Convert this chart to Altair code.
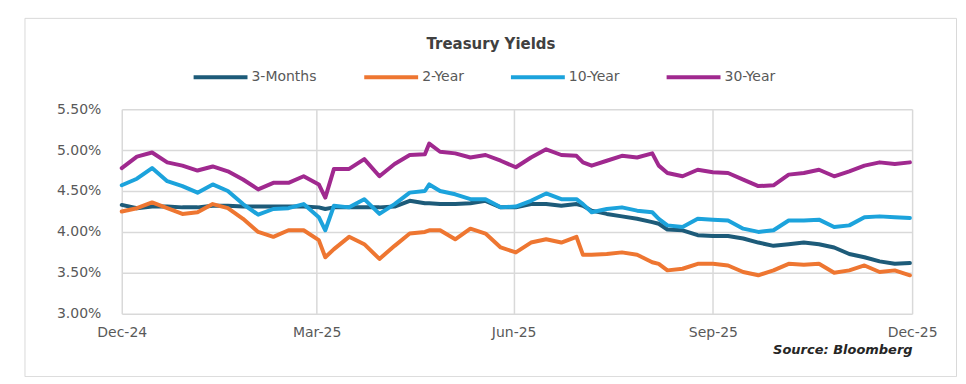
import altair as alt
import pandas as pd

# ---- data ----
dates = [
    "2024-12-31", "2025-01-07", "2025-01-14", "2025-01-21", "2025-01-28",
    "2025-02-04", "2025-02-11", "2025-02-18", "2025-02-25", "2025-03-04",
    "2025-03-11", "2025-03-18", "2025-03-25", "2025-04-01", "2025-04-04",
    "2025-04-08", "2025-04-15", "2025-04-22", "2025-04-29", "2025-05-06",
    "2025-05-13", "2025-05-20", "2025-05-22", "2025-05-27", "2025-06-03",
    "2025-06-10", "2025-06-17", "2025-06-24", "2025-07-01", "2025-07-08",
    "2025-07-15", "2025-07-22", "2025-07-29", "2025-08-01", "2025-08-05",
    "2025-08-12", "2025-08-19", "2025-08-26", "2025-09-02", "2025-09-05",
    "2025-09-09", "2025-09-16", "2025-09-23", "2025-09-30", "2025-10-07",
    "2025-10-14", "2025-10-21", "2025-10-28", "2025-11-04", "2025-11-11",
    "2025-11-18", "2025-11-25", "2025-12-02", "2025-12-09", "2025-12-16",
    "2025-12-23", "2025-12-30",
]

three_month = [
    4.33, 4.29, 4.31, 4.31, 4.30,
    4.30, 4.32, 4.32, 4.31, 4.31,
    4.31, 4.31, 4.31, 4.30, 4.28,
    4.30, 4.30, 4.30, 4.30, 4.31,
    4.38, 4.35, 4.35, 4.34, 4.34,
    4.35, 4.38, 4.30, 4.30, 4.34,
    4.34, 4.32, 4.34, 4.32, 4.26,
    4.22, 4.19, 4.16, 4.12, 4.10,
    4.03, 4.02, 3.96, 3.95, 3.95,
    3.92, 3.87, 3.83, 3.85, 3.87,
    3.85, 3.81, 3.73, 3.69, 3.64,
    3.61, 3.62,
]

two_year = [
    4.25, 4.29, 4.36, 4.29, 4.22,
    4.24, 4.34, 4.29, 4.16, 4.00,
    3.94, 4.02, 4.02, 3.90, 3.69,
    3.79, 3.94, 3.85, 3.67, 3.83,
    3.98, 4.00, 4.02, 4.02, 3.91,
    4.04, 3.98, 3.81, 3.75, 3.87,
    3.91, 3.87, 3.94, 3.72, 3.72,
    3.73, 3.75, 3.72, 3.63, 3.61,
    3.53, 3.55, 3.61, 3.61, 3.59,
    3.51, 3.47, 3.53, 3.61, 3.60,
    3.61, 3.50, 3.53, 3.59, 3.51,
    3.53, 3.47,
]

ten_year = [
    4.57, 4.65, 4.78, 4.62, 4.56,
    4.48, 4.58, 4.50, 4.34, 4.21,
    4.28, 4.29, 4.34, 4.18, 4.02,
    4.32, 4.30, 4.40, 4.22, 4.34,
    4.48, 4.50, 4.58, 4.50, 4.46,
    4.40, 4.40, 4.30, 4.31, 4.38,
    4.47, 4.40, 4.40, 4.34, 4.24,
    4.28, 4.30, 4.26, 4.24, 4.16,
    4.08, 4.06, 4.16, 4.15, 4.14,
    4.04, 4.00, 4.02, 4.14, 4.14,
    4.15, 4.06, 4.08, 4.18, 4.19,
    4.18, 4.17,
]

thirty_year = [
    4.78, 4.92, 4.97, 4.85, 4.81,
    4.75, 4.80, 4.74, 4.64, 4.52,
    4.60, 4.60, 4.68, 4.58, 4.42,
    4.77, 4.77, 4.89, 4.68, 4.83,
    4.94, 4.95, 5.08, 4.98, 4.96,
    4.91, 4.94, 4.87, 4.79, 4.91,
    5.01, 4.94, 4.93, 4.85, 4.81,
    4.87, 4.93, 4.91, 4.96, 4.81,
    4.72, 4.68, 4.76, 4.73, 4.72,
    4.64, 4.56, 4.57, 4.70, 4.72,
    4.76, 4.68, 4.74, 4.81, 4.85,
    4.83, 4.85,
]

series_names = ["3-Months", "2-Year", "10-Year", "30-Year"]
series_colors = ["#1d5b79", "#ee7631", "#1ca3dc", "#a0298f"]
y_ticks = [3.0, 3.5, 4.0, 4.5, 5.0, 5.5]

rows = []
for name, vals in zip(series_names, [three_month, two_year, ten_year, thirty_year]):
    for d, v in zip(dates, vals):
        rows.append({"date": d, "series": name, "yield": v})
df = pd.DataFrame(rows)

x_ticks = [
    alt.DateTime(year=2024, month=12, date=31, utc=True),
    alt.DateTime(year=2025, month=3, date=31, utc=True),
    alt.DateTime(year=2025, month=6, date=30, utc=True),
    alt.DateTime(year=2025, month=9, date=30, utc=True),
    alt.DateTime(year=2025, month=12, date=31, utc=True),
]

GRID = "#d9d9d9"
LABEL = "#595959"

lines = alt.Chart(df).mark_line(
    strokeWidth=4, strokeJoin="round", strokeCap="round"
).encode(
    x=alt.X(
        "date:T",
        scale=alt.Scale(type="utc", domain=[x_ticks[0], x_ticks[-1]]),
        axis=alt.Axis(
            values=x_ticks,
            labelExpr="utcFormat(datum.value, '%b-%y')",
            title="Source: Bloomberg",
            titleAnchor="end",
            titleFontStyle="italic",
            titleFontWeight=600,
            titleFontSize=13,
            titleColor="#262626",
            titlePadding=4,
            grid=True,
            gridColor=GRID,
            gridWidth=1.5,
            domain=False,
            ticks=False,
            tickSize=0,
            labelPadding=12,
            labelFontSize=14,
            labelColor=LABEL,
            labelFlush=False,
        ),
    ),
    y=alt.Y(
        "yield:Q",
        scale=alt.Scale(domain=[3.0, 5.5], nice=False, zero=False),
        axis=alt.Axis(
            values=y_ticks,
            labelExpr="format(datum.value, '.2f') + '%'",
            title=None,
            grid=True,
            gridColor=GRID,
            gridWidth=1.5,
            domain=False,
            ticks=False,
            tickSize=0,
            labelPadding=21,
            labelFontSize=14,
            labelColor=LABEL,
        ),
    ),
    color=alt.Color(
        "series:N",
        scale=alt.Scale(domain=series_names, range=series_colors),
        legend=alt.Legend(
            orient="none",
            legendX=70,
            legendY=-61,
            direction="horizontal",
            columns=4,
            title=None,
            symbolType="stroke",
            symbolSize=2916,
            symbolStrokeWidth=4,
            labelFontSize=14,
            labelColor=LABEL,
            labelOffset=2,
            columnPadding=39,
        ),
    ),
)

border = alt.Chart(alt.Data(values=[{}])).mark_rect(
    fillOpacity=0, stroke="#d9d9d9", strokeWidth=1
).encode(
    x=alt.value(-97), x2=alt.value(836.5), y=alt.value(-91), y2=alt.value(268)
)

chart = alt.layer(border, lines).properties(
    width=792,
    height=205,
    title=alt.TitleParams(
        "Treasury Yields",
        fontSize=15,
        fontWeight="bold",
        color="#404040",
        anchor="middle",
        dx=-26,
        offset=0,
        dy=34,
    ),
    autosize=alt.AutoSizeParams(type="none"),
    padding={"left": 114, "top": 101, "right": 46, "bottom": 63},
).configure(
    font="DejaVu Sans"
).configure_view(
    strokeWidth=0
)

chart.save("out.html", embed_options={"renderer": "svg", "actions": False})
